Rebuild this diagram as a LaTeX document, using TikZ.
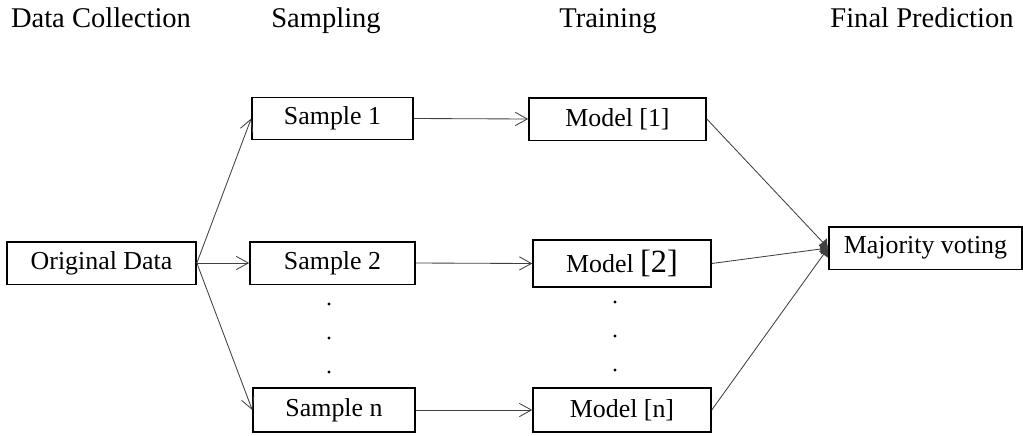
\documentclass[tikz,border=0pt]{standalone}
\usepackage{fontspec}
\setmainfont{Liberation Serif}
\usetikzlibrary{arrows.meta,positioning}

\begin{document}
\begin{tikzpicture}[
    x=0.025cm, y=-0.025cm,
    head/.style={anchor=base, font=\fontsize{20.3}{24}\selectfont},
    box/.style={rectangle, draw, line width=1pt, minimum height=1.06cm, font=\fontsize{18.4}{21}\selectfont},
    dot/.style={circle, fill, inner sep=0pt, minimum size=0.08cm},
    arrow/.style={-{Straight Barb[length=3mm,width=3.3mm]}, draw=black!75, line width=0.6pt},
    vote/.style={-{Latex[length=2mm,width=3mm]}, draw=black!75, line width=0.6pt}
]
    \useasboundingbox (0,0) rectangle (1023,435);

    \node[head] (hcollect) at (101,27) {Data Collection};
    \node[head] (hsample) at (326,27) {Sampling};
    \node[head] (htrain) at (608,27) {Training};
    \node[head] (hpredict) at (922,27) {Final Prediction};

    \node[box, minimum width=4.73cm] (orig) at (101.5,263) {Original Data};
    \node[box, minimum width=4.03cm] (sample1) at (332.5,118.5) {Sample 1};
    \node[box, minimum width=4.13cm] (sample2) at (332.5,263) {Sample 2};
    \node[box, minimum width=4.05cm, minimum height=1.1cm] (samplen) at (334,410) {Sample n};
    \node[box, minimum width=4.43cm] (model1) at (617.5,119) {Model [1]};
    \node[box, minimum width=4.45cm, minimum height=1.18cm] (model2) at (622,263.5) {Model {\fontsize{23}{24}\selectfont[2]}};
    \node[box, minimum width=4.45cm, minimum height=1.1cm] (modeln) at (622,410) {Model [n]};
    \node[box, minimum width=4.83cm] (voting) at (925.5,248) {Majority voting};

    \foreach \y [count=\i] in {304,338,372} {
        \node[dot] (sdot\i) at (329,\y) {};
        \node[dot] (mdot\i) at (615,\y-2) {};
    }

    \draw[arrow] (orig.east) -- (sample1.west);
    \draw[arrow] (orig.east) -- (sample2.west);
    \draw[arrow] (orig.east) -- (samplen.west);
    \draw[arrow] (sample1.east) -- (model1.west);
    \draw[arrow] (sample2.east) -- (model2.west);
    \draw[arrow] (samplen.east) -- (modeln.west);
    \draw[vote] (model1.east) -- (voting.west);
    \draw[vote] (model2.east) -- (voting.west);
    \draw[vote] (modeln.east) -- (voting.west);
\end{tikzpicture}
\end{document}
